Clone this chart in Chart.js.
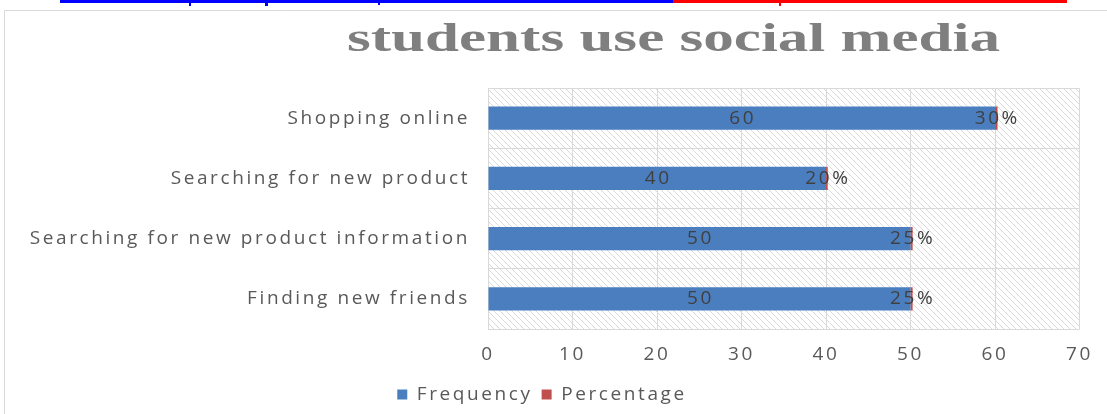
<!DOCTYPE html>
<html><head><meta charset="utf-8">
<script src="https://cdn.jsdelivr.net/npm/chart.js@4/dist/chart.umd.min.js"></script>
<style>html,body{margin:0;padding:0;background:#fff;overflow:hidden}</style>
</head><body>
<canvas id="c" width="1107" height="414"></canvas>
<script>
const categories = ['Shopping online', 'Searching for new product', 'Searching for new product information', 'Finding new friends'];
const frequency = [60, 40, 50, 50];
const percentage = [0.30, 0.20, 0.25, 0.25];
const seriesNames = ['Frequency', 'Percentage'];
const xTicks = [0, 10, 20, 30, 40, 50, 60, 70];
const titleText = 'students use social media';

const TEXT = '#595959';
const FONT = 'Open Sans';
const SPACING = '2.6px';
const FS = 19;

const spacingPlugin = {
  id: 'spacing',
  beforeUpdate(c) { c.ctx.letterSpacing = SPACING; },
  beforeLayout(c) { c.ctx.letterSpacing = SPACING; },
  beforeDraw(c) { c.ctx.letterSpacing = SPACING; }
};

const backgroundPlugin = {
  id: 'bg',
  beforeDraw(c) {
    const ctx = c.ctx, a = c.chartArea;
    ctx.save();
    ctx.fillStyle = '#fff';
    ctx.fillRect(0, 0, c.width, c.height);
    // hyperlink underline at very top
    ctx.fillStyle = '#0000ff';
    ctx.fillRect(60, 0, 613, 3);
    ctx.fillRect(189, 0, 2, 6);
    ctx.fillRect(265, 0, 3, 6);
    ctx.fillRect(378, 0, 2, 5);
    ctx.fillStyle = '#ff0000';
    ctx.fillRect(673, 0, 394, 3);
    ctx.fillRect(779, 0, 2, 6);
    // frame
    ctx.strokeStyle = '#d9d9d9';
    ctx.lineWidth = 1;
    ctx.beginPath();
    ctx.moveTo(4.5, c.height);
    ctx.lineTo(4.5, 10.5);
    ctx.lineTo(c.width, 10.5);
    ctx.stroke();
    // hatch in plot area
    ctx.beginPath();
    ctx.rect(a.left, a.top, a.right - a.left, a.bottom - a.top);
    ctx.clip();
    ctx.strokeStyle = '#dadada';
    ctx.lineWidth = 1;
    const h = a.bottom - a.top;
    ctx.beginPath();
    for (let k = -h; k < a.right - a.left; k += 6) {
      ctx.moveTo(a.left + k, a.top);
      ctx.lineTo(a.left + k + h, a.bottom);
    }
    ctx.stroke();
    ctx.restore();
  }
};

const labelPlugin = {
  id: 'labels',
  afterDatasetsDraw(c) {
    const ctx = c.ctx;
    ctx.save();
    ctx.letterSpacing = SPACING;
    ctx.font = FS + 'px "' + FONT + '"';
    ctx.fillStyle = '#404040';
    ctx.textAlign = 'center';
    ctx.textBaseline = 'middle';
    c.data.datasets.forEach((ds, di) => {
      const meta = c.getDatasetMeta(di);
      meta.data.forEach((el, i) => {
        const v = ds.data[i];
        const txt = di === 0 ? String(v) : Math.round(v * 100) + '%';
        const cx = (el.x + el.base) / 2;
        ctx.fillText(txt, cx + 1, el.y);
      });
    });
    ctx.restore();
  }
};

const titlePlugin = {
  id: 'titleDraw',
  afterDraw(c) {
    const ctx = c.ctx;
    ctx.save();
    ctx.letterSpacing = '0px';
    ctx.font = 'bold 40px "Liberation Serif"';
    ctx.fillStyle = '#7f7f7f';
    ctx.textAlign = 'left';
    ctx.textBaseline = 'alphabetic';
    const w = ctx.measureText(titleText).width;
    ctx.translate(347, 51);
    ctx.scale(653 / w, 1);
    ctx.fillText(titleText, 0, 0);
    ctx.restore();
  }
};

new Chart(document.getElementById('c'), {
  type: 'bar',
  data: {
    labels: categories,
    datasets: [
      { label: seriesNames[0], data: frequency, backgroundColor: '#4a7ebf', categoryPercentage: 0.39, barPercentage: 1 },
      { label: seriesNames[1], data: percentage, backgroundColor: '#c0504d', categoryPercentage: 0.39, barPercentage: 1 }
    ]
  },
  options: {
    indexAxis: 'y',
    responsive: false,
    animation: false,
    devicePixelRatio: 1,
    layout: { padding: { top: 88, right: 23, bottom: 0, left: 0 } },
    plugins: {
      title: { display: false },
      tooltip: { enabled: false },
      legend: {
        position: 'bottom',
        labels: { color: TEXT, font: { family: FONT, size: FS }, boxWidth: 10, boxHeight: 10, padding: 9 }
      }
    },
    scales: {
      x: {
        stacked: true, min: 0, max: 70,
        afterBuildTicks(s) { s.ticks = xTicks.map(v => ({ value: v })); },
        ticks: { color: TEXT, font: { family: FONT, size: FS }, padding: 14 },
        grid: { color: '#d9d9d9', drawTicks: false },
        border: { display: false },
        afterFit(s) { s.height = 47; }
      },
      y: {
        stacked: true,
        ticks: { color: TEXT, font: { family: FONT, size: FS }, padding: 18 },
        grid: { color: '#d9d9d9', drawTicks: false },
        border: { display: false },
        afterFit(s) { s.width = 488; }
      }
    }
  },
  plugins: [spacingPlugin, backgroundPlugin, labelPlugin, titlePlugin]
});
</script>
</body></html>
